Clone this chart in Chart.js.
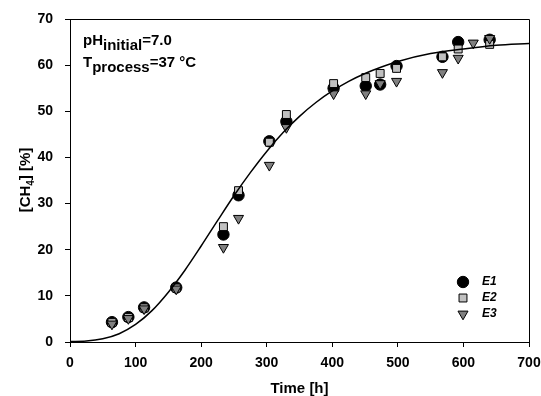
<!DOCTYPE html>
<html>
<head>
<meta charset="utf-8">
<script src="https://cdn.jsdelivr.net/npm/chart.js@4.4.0/dist/chart.umd.min.js"></script>
<style>
  html, body { margin: 0; padding: 0; background: #fff; }
  #wrap { width: 541px; height: 396px; }
</style>
</head>
<body>
<div id="wrap"><canvas id="myChart" width="541" height="396"></canvas></div>
<script>
// measured points (time in h, CH4 in %)
const timesE1 = [64, 89, 113, 162, 234, 257, 304, 330, 402, 451, 473, 498, 568, 592, 640];
const valsE1 = [4.3, 5.4, 7.5, 11.8, 23.3, 31.8, 43.5, 47.8, 55.0, 55.5, 55.8, 59.8, 61.8, 65.0, 65.5];

const timesE2 = [64, 89, 113, 162, 234, 257, 304, 330, 402, 451, 473, 498, 568, 592, 640];
const valsE2 = [4.2, 5.3, 7.4, 11.7, 25.0, 32.8, 43.3, 49.3, 56.0, 57.3, 58.2, 59.3, 61.8, 63.5, 64.5];

const timesE3 = [64, 89, 113, 162, 234, 257, 304, 330, 402, 451, 473, 498, 568, 592, 615, 640];
const valsE3 = [3.9, 5.1, 7.2, 11.5, 20.5, 26.8, 38.3, 46.5, 53.8, 53.8, 56.0, 56.5, 58.4, 61.5, 64.8, 65.8];

// fitted curve
const fitTimes = [0, 25, 50, 75, 100, 125, 150, 175, 200, 225, 250, 275, 300, 325, 350, 375, 400, 425, 450, 475, 500, 550, 600, 650, 700];
const fitVals = [0.1, 0.2, 0.7, 1.8, 3.8, 6.8, 10.8, 15.5, 20.8, 26.3, 31.7, 36.7, 41.3, 45.4, 48.9, 51.9, 54.4, 56.5, 58.2, 59.6, 60.8, 62.5, 63.5, 64.3, 64.7];

const xTicks = [0, 100, 200, 300, 400, 500, 600, 700];
const yTicks = [0, 10, 20, 30, 40, 50, 60, 70];

const FONT = '"Liberation Sans", Arial, sans-serif';

const pts = (xs, ys) => xs.map((x, i) => ({ x: x, y: ys[i] }));

const series = [
    { label: 'E1', style: 'circle', radius: 5.7, rotation: 0, fill: '#000000' },
    { label: 'E2', style: 'rect', radius: 5.6, rotation: 0, fill: '#c0c0c0' },
    { label: 'E3', style: 'triangle', radius: 5.8, rotation: 180, fill: '#808080' },
];

// box frame, annotation text, axis titles and legend
const extras = {
    id: 'extras',
    afterDraw(chart) {
        const ctx = chart.ctx;
        const a = chart.chartArea;
        ctx.save();
        ctx.strokeStyle = '#000';
        ctx.lineWidth = 1;
        ctx.beginPath();
        ctx.moveTo(a.left, a.top + 0.5);
        ctx.lineTo(a.right + 0.5, a.top + 0.5);
        ctx.lineTo(a.right + 0.5, a.bottom);
        ctx.stroke();

        ctx.fillStyle = '#000';
        ctx.textBaseline = 'alphabetic';
        ctx.textAlign = 'left';
        const sub = (parts, x, y) => {
            parts.forEach(p => {
                ctx.font = 'bold 15px ' + FONT;
                ctx.fillText(p[0], x, y + p[1]);
                x += ctx.measureText(p[0]).width;
            });
        };
        sub([['pH', 0], ['initial', 5], ['=7.0', 0]], 83, 45);
        sub([['T', 0], ['process', 5], ['=37 °C', 0]], 83, 67);

        // x title
        ctx.font = 'bold 15px ' + FONT;
        ctx.textAlign = 'center';
        ctx.fillText('Time [h]', (a.left + a.right) / 2, 393);

        // y title
        ctx.save();
        ctx.translate(30, 180);
        ctx.rotate(-Math.PI / 2);
        ctx.textAlign = 'left';
        const p1 = '[CH', p2 = '4', p3 = '] [%]';
        ctx.font = 'bold 15px ' + FONT;
        const w1 = ctx.measureText(p1).width;
        const w3 = ctx.measureText(p3).width;
        ctx.font = 'bold 10px ' + FONT;
        const w2 = ctx.measureText(p2).width;
        let x = -(w1 + w2 + w3) / 2;
        ctx.font = 'bold 15px ' + FONT;
        ctx.fillText(p1, x, 0);
        x += w1;
        ctx.font = 'bold 10px ' + FONT;
        ctx.fillText(p2, x, 4);
        x += w2;
        ctx.font = 'bold 15px ' + FONT;
        ctx.fillText(p3, x, 0);
        ctx.restore();

        // legend
        series.forEach((s, i) => {
            const ly = 282 + i * 16;
            ctx.fillStyle = s.fill;
            ctx.strokeStyle = '#000';
            ctx.lineWidth = 1;
            Chart.helpers.drawPoint(ctx, { pointStyle: s.style, radius: s.radius, rotation: s.rotation, borderWidth: 1 }, 463, ly);
            ctx.fillStyle = '#000';
            ctx.font = 'italic bold 12px ' + FONT;
            ctx.textAlign = 'left';
            ctx.textBaseline = 'middle';
            ctx.fillText(s.label, 482, ly);
        });
        ctx.restore();
    }
};

const dataSets = [
    {
        label: 'fit',
        data: pts(fitTimes, fitVals),
        showLine: true,
        borderColor: '#000',
        borderWidth: 1.5,
        pointRadius: 0,
        cubicInterpolationMode: 'monotone',
        order: 0,
    },
];
[[timesE1, valsE1], [timesE2, valsE2], [timesE3, valsE3]].forEach((d, i) => {
    const s = series[i];
    dataSets.push({
        label: s.label,
        data: pts(d[0], d[1]),
        showLine: false,
        pointStyle: s.style,
        pointRadius: s.radius,
        pointRotation: s.rotation,
        pointBackgroundColor: s.fill,
        pointBorderColor: '#000',
        pointBorderWidth: 1,
        order: 3 - i,
    });
});

const tickFont = { family: FONT, size: 14, weight: 'bold' };

new Chart(document.getElementById('myChart'), {
    type: 'scatter',
    data: { datasets: dataSets },
    plugins: [extras],
    options: {
        responsive: false,
        animation: false,
        layout: { padding: { top: 19, right: 12, left: 0, bottom: 0 } },
        plugins: { legend: { display: false }, tooltip: { enabled: false } },
        scales: {
            x: {
                type: 'linear',
                min: 0, max: 700,
                afterFit: s => { s.height = 54; s.paddingLeft = 0; s.paddingRight = 0; },
                afterBuildTicks: s => { s.ticks = xTicks.map(v => ({ value: v })); },
                grid: { display: true, drawOnChartArea: false, drawTicks: true, tickLength: 5, color: '#000' },
                border: { display: true, color: '#000', width: 1 },
                ticks: { color: '#000', font: tickFont, padding: 8, maxRotation: 0 },
            },
            y: {
                type: 'linear',
                min: 0, max: 70,
                afterFit: s => { s.width = 70; s.paddingTop = 0; s.paddingBottom = 0; },
                afterBuildTicks: s => { s.ticks = yTicks.map(v => ({ value: v })); },
                grid: { display: true, drawOnChartArea: false, drawTicks: true, tickLength: 5, color: '#000' },
                border: { display: true, color: '#000', width: 1 },
                ticks: { color: '#000', font: tickFont, padding: 12 },
            },
        },
    },
});
</script>
</body>
</html>
